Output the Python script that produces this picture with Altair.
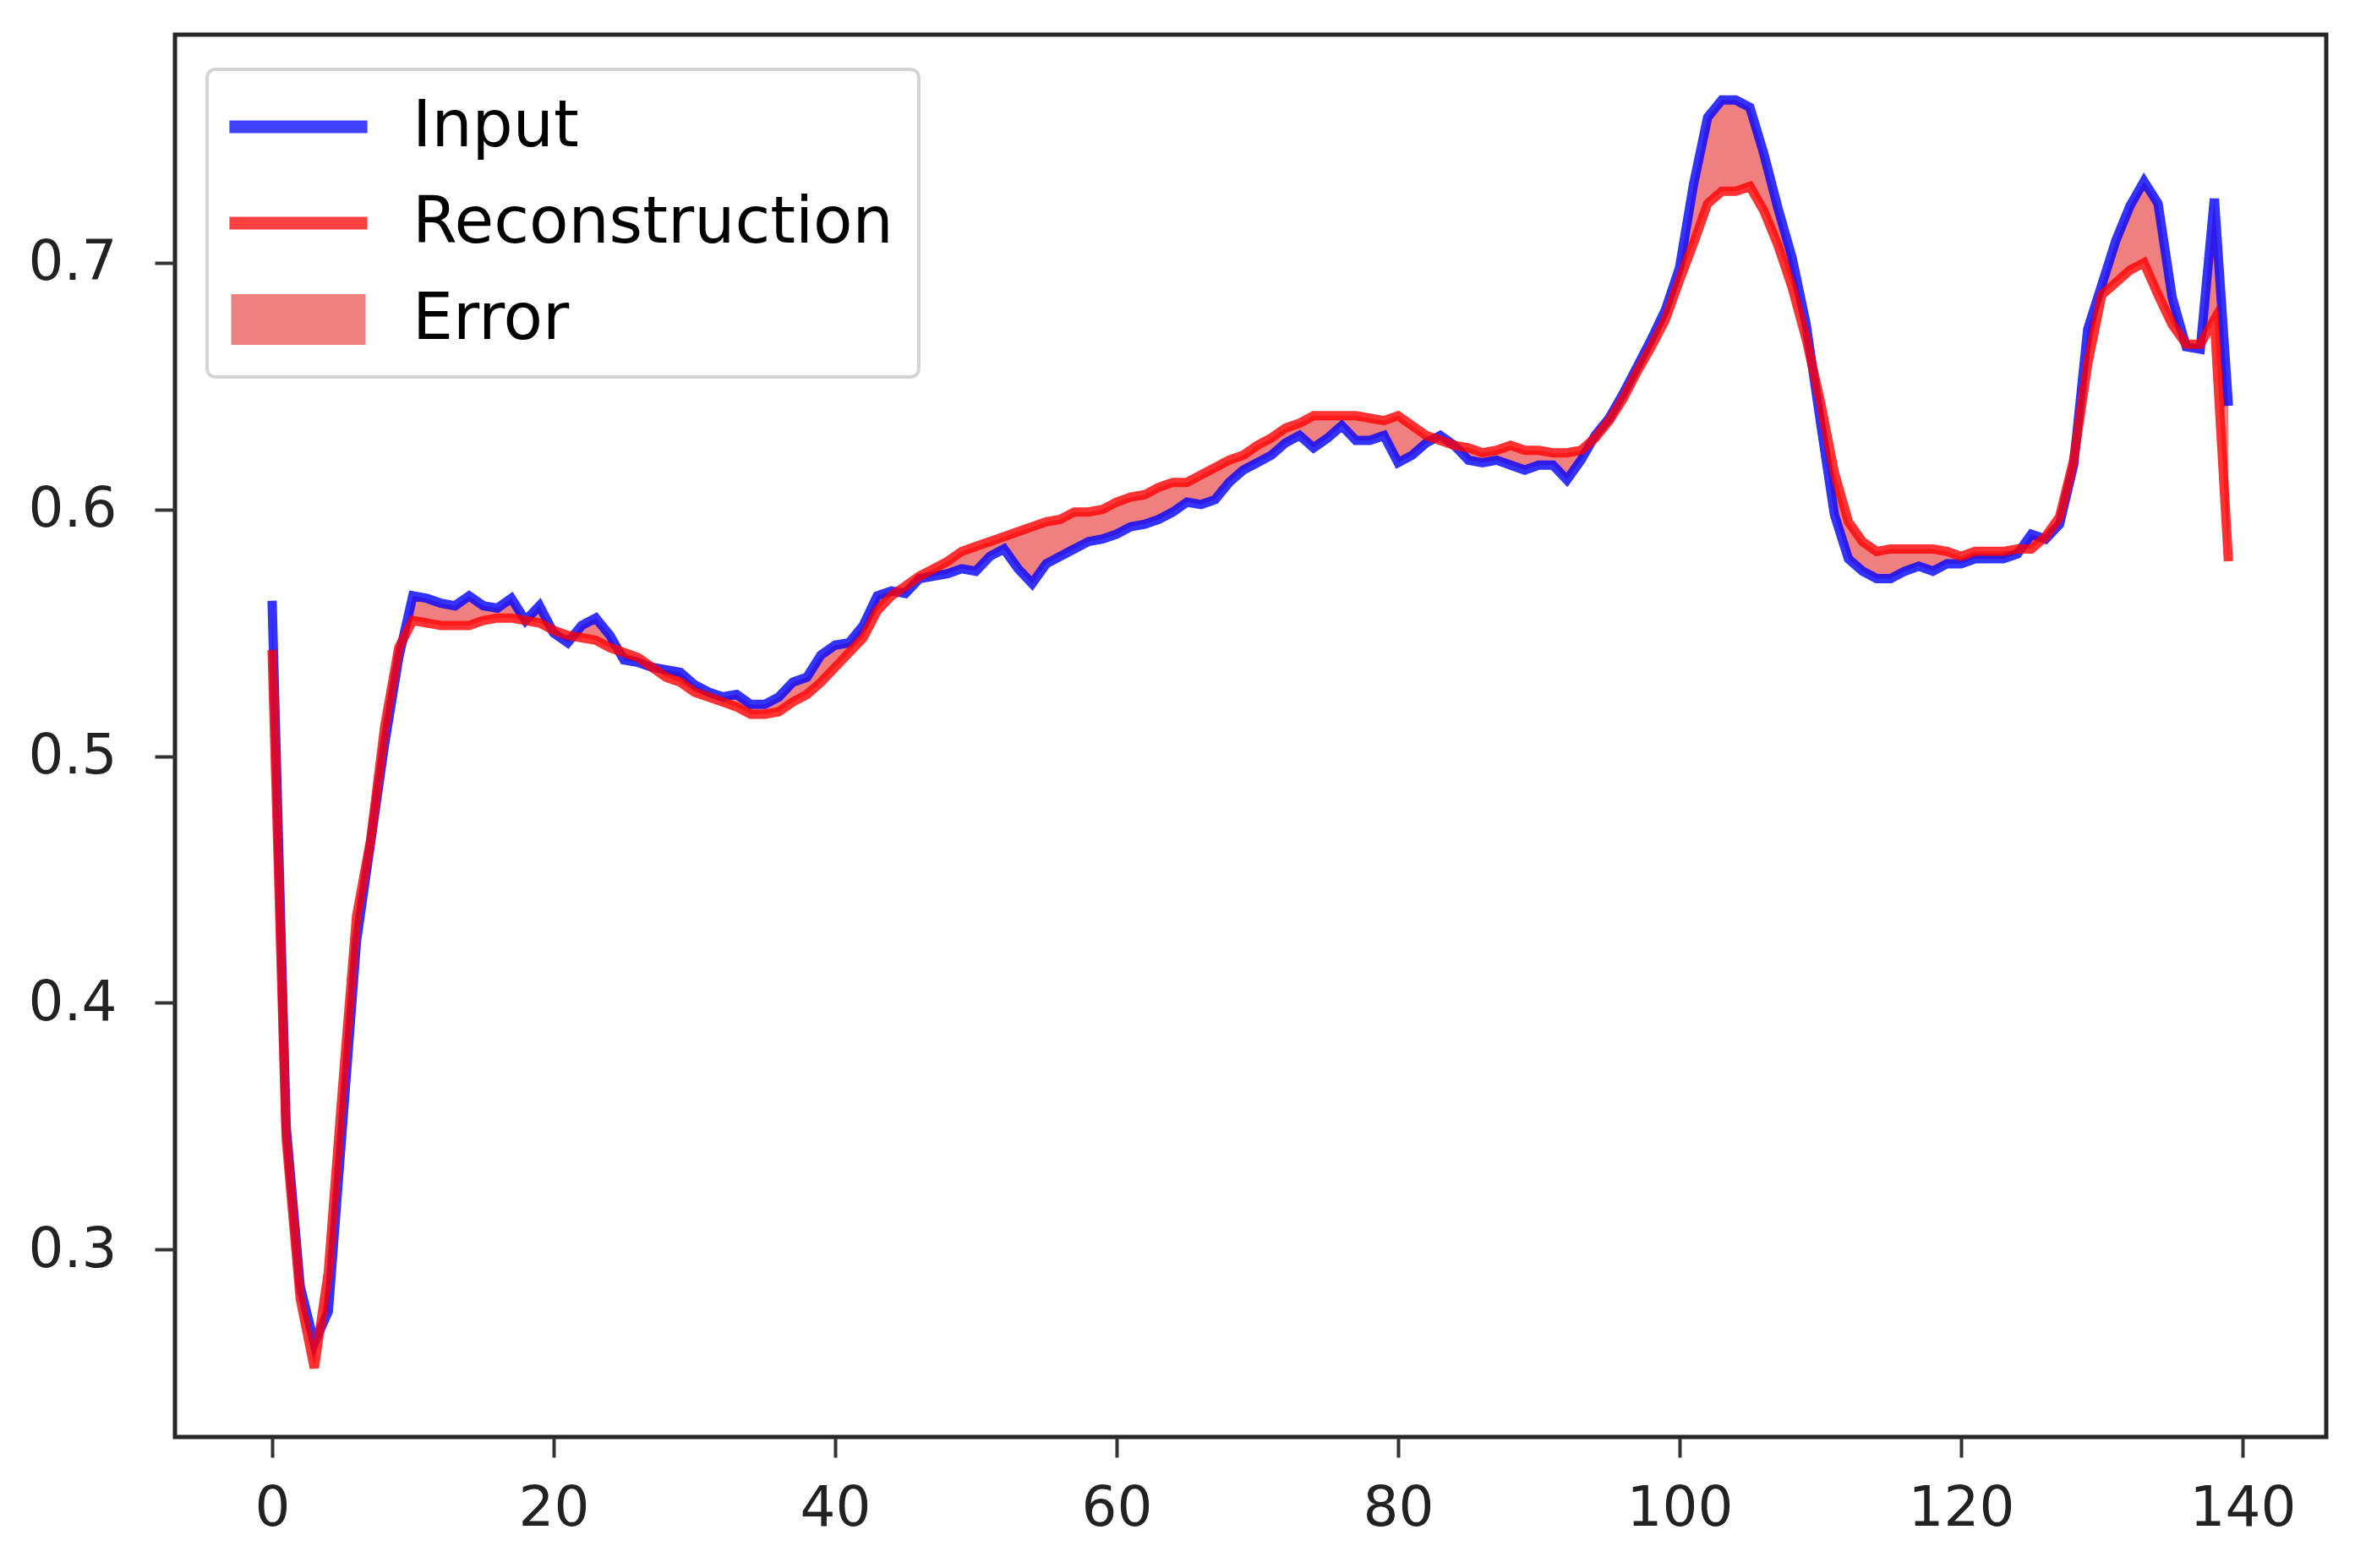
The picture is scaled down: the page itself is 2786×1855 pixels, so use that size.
import altair as alt
import pandas as pd

x_vals = list(range(140))

input_vals = [
    0.563, 0.350, 0.285, 0.262, 0.275, 0.350, 0.425, 0.465, 0.505, 0.540,
    0.565, 0.564, 0.562, 0.561, 0.565, 0.561, 0.560, 0.564, 0.555, 0.561,
    0.550, 0.546, 0.553, 0.556, 0.549, 0.539, 0.538, 0.536, 0.535, 0.534,
    0.529, 0.526, 0.524, 0.525, 0.521, 0.521, 0.524, 0.530, 0.532, 0.541,
    0.545, 0.546, 0.553, 0.565, 0.567, 0.566, 0.572, 0.573, 0.574, 0.576,
    0.575, 0.581, 0.584, 0.576, 0.570, 0.578, 0.581, 0.584, 0.587, 0.588,
    0.590, 0.593, 0.594, 0.596, 0.599, 0.603, 0.602, 0.604, 0.611, 0.616,
    0.619, 0.622, 0.627, 0.630, 0.625, 0.629, 0.634, 0.628, 0.628, 0.630,
    0.619, 0.622, 0.627, 0.630, 0.626, 0.620, 0.619, 0.620, 0.618, 0.616,
    0.618, 0.618, 0.612, 0.620, 0.630, 0.637, 0.647, 0.658, 0.669, 0.681,
    0.698, 0.732, 0.759, 0.766, 0.766, 0.763, 0.744, 0.722, 0.702, 0.675,
    0.636, 0.598, 0.580, 0.575, 0.572, 0.572, 0.575, 0.577, 0.575, 0.578,
    0.578, 0.580, 0.580, 0.580, 0.582, 0.590, 0.588, 0.594, 0.618, 0.673,
    0.691, 0.709, 0.723, 0.733, 0.724, 0.686, 0.666, 0.665, 0.726, 0.642,
]

recon_vals = [
    0.543, 0.345, 0.280, 0.252, 0.291, 0.365, 0.435, 0.466, 0.512, 0.544,
    0.555, 0.554, 0.553, 0.553, 0.553, 0.555, 0.556, 0.556, 0.555, 0.554,
    0.551, 0.549, 0.548, 0.547, 0.544, 0.542, 0.540, 0.536, 0.532, 0.530,
    0.526, 0.524, 0.522, 0.520, 0.517, 0.517, 0.518, 0.522, 0.525, 0.530,
    0.536, 0.542, 0.548, 0.559, 0.565, 0.569, 0.573, 0.576, 0.579, 0.583,
    0.585, 0.587, 0.589, 0.591, 0.593, 0.595, 0.596, 0.599, 0.599, 0.600,
    0.603, 0.605, 0.606, 0.609, 0.611, 0.611, 0.614, 0.617, 0.620, 0.622,
    0.626, 0.629, 0.633, 0.635, 0.638, 0.638, 0.638, 0.638, 0.637, 0.636,
    0.638, 0.634, 0.630, 0.628, 0.626, 0.625, 0.623, 0.624, 0.626, 0.624,
    0.624, 0.623, 0.623, 0.624, 0.629, 0.636, 0.645, 0.656, 0.666, 0.677,
    0.693, 0.708, 0.724, 0.729, 0.729, 0.731, 0.721, 0.707, 0.690, 0.669,
    0.644, 0.615, 0.595, 0.587, 0.583, 0.584, 0.584, 0.584, 0.584, 0.583,
    0.581, 0.583, 0.583, 0.583, 0.584, 0.584, 0.589, 0.597, 0.620, 0.659,
    0.687, 0.692, 0.697, 0.700, 0.687, 0.675, 0.667, 0.667, 0.677, 0.579,
]

series_labels = ["Input", "Reconstruction", "Error"]
series_colors = ["#4040ff", "#ff4040", "#f08080"]
x_ticks = [0, 20, 40, 60, 80, 100, 120, 140]
y_ticks = [0.3, 0.4, 0.5, 0.6, 0.7]

df = pd.DataFrame({"x": x_vals, "input": input_vals, "recon": recon_vals})
legend_df = pd.DataFrame({"series": series_labels})

line_path = "M-2.72,-0.25L2.72,-0.25L2.72,0.25L-2.72,0.25Z"
patch_path = "M-2.65,-1L2.65,-1L2.65,1L-2.65,1Z"

xscale = alt.Scale(domain=[-6.9, 145.95], nice=False, zero=False)
yscale = alt.Scale(domain=[0.224, 0.7925], nice=False, zero=False)

xaxis = alt.Axis(values=x_ticks, title=None, grid=False, domain=False,
                 tickSize=24, tickWidth=4, tickColor="#333333",
                 labelFont="DejaVu Sans", labelFontSize=66, labelColor="#222222",
                 labelPadding=28, format="d", labelFlush=False)
yaxis = alt.Axis(values=y_ticks, title=None, grid=False, domain=False,
                 tickSize=24, tickWidth=4, tickColor="#333333",
                 labelFont="DejaVu Sans", labelFontSize=66, labelColor="#222222",
                 labelPadding=45, format=".1f", labelFlush=False)

base = alt.Chart(df)

err_area = base.mark_area(color="#f08080", opacity=1).encode(
    x=alt.X("x:Q", scale=xscale, axis=xaxis),
    y=alt.Y("input:Q", scale=yscale, axis=yaxis),
    y2="recon:Q",
)
blue_line = base.mark_line(color="blue", strokeWidth=11, opacity=0.8).encode(
    x=alt.X("x:Q", scale=xscale, axis=xaxis),
    y=alt.Y("input:Q", scale=yscale, axis=yaxis),
)
red_line = base.mark_line(color="red", strokeWidth=11, opacity=0.8).encode(
    x=alt.X("x:Q", scale=xscale, axis=xaxis),
    y=alt.Y("recon:Q", scale=yscale, axis=yaxis),
)

leg = alt.Legend(
    title=None, orient="none", legendX=38, legendY=41, direction="vertical",
    padding=30, rowPadding=38, symbolSize=3600, symbolOffset=40, labelOffset=97,
    labelFont="DejaVu Sans", labelFontSize=76, labelColor="black", labelLimit=1000,
    labelBaseline="middle", symbolStrokeWidth=0, symbolOpacity=1,
    strokeColor="#d4d4d4", fillColor="white", cornerRadius=10,
)

legend_layer = alt.Chart(legend_df).mark_point(filled=True, opacity=0).encode(
    color=alt.Color("series:N", scale=alt.Scale(domain=series_labels, range=series_colors), legend=leg),
    shape=alt.Shape("series:N", scale=alt.Scale(domain=series_labels,
                                                range=[line_path, line_path, patch_path]), legend=leg),
)

chart = alt.layer(err_area, blue_line, red_line, legend_layer).properties(
    width=2545, height=1659,
    padding={"left": 199, "top": 33, "right": 20, "bottom": 130},
    autosize=alt.AutoSizeParams(type="none"),
    background="white",
).configure_view(
    stroke="#262626", strokeWidth=5
).configure_legend(
    strokeWidth=4
)

chart.save("out.html", embed_options={"renderer": "svg", "actions": False})
